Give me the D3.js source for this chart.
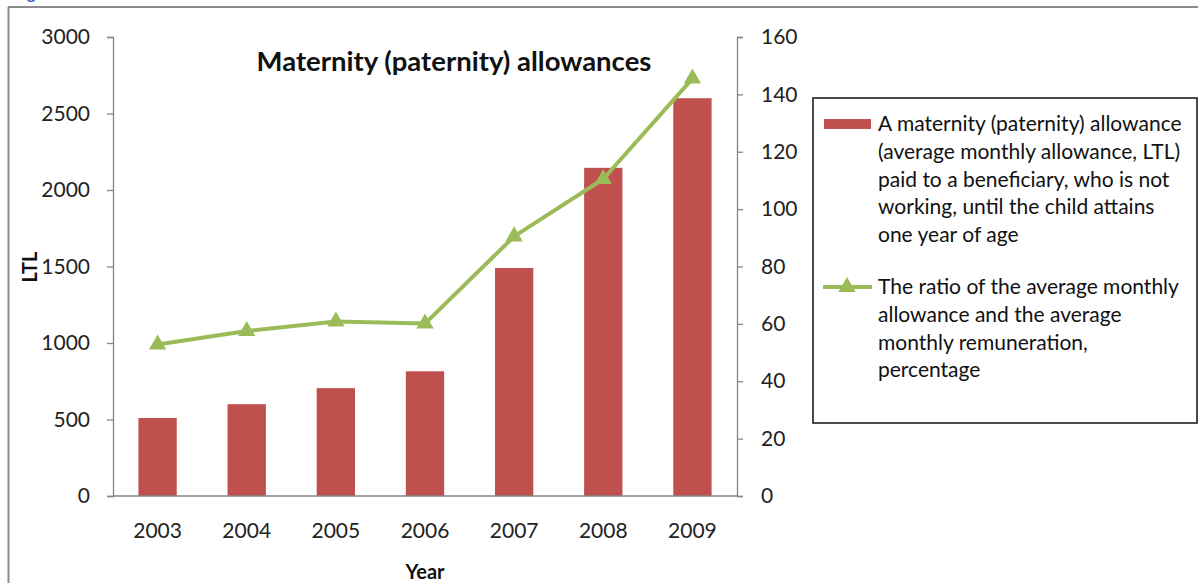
<!DOCTYPE html>
<html>
<head>
<meta charset="utf-8">
<script src="https://cdn.jsdelivr.net/npm/d3@7"></script>
<style>
  html, body { margin: 0; padding: 0; background: #fff; }
  svg { display: block; font-family: Lato, "Open Sans", sans-serif; }
</style>
</head>
<body>
<svg id="chart" width="1198" height="583"></svg>
<script>
// Maternity (paternity) allowance data, 2003–2009
const years = ["2003", "2004", "2005", "2006", "2007", "2008", "2009"];
const allowanceLTL = [510, 600, 705, 815, 1490, 2145, 2600];
const ratioPercent = [52.8, 57.5, 60.8, 60.1, 90.5, 110.5, 145.5];
const leftTicks = [0, 500, 1000, 1500, 2000, 2500, 3000];
const rightTicks = [0, 20, 40, 60, 80, 100, 120, 140, 160];
const legendBarText = [
  "A maternity (paternity) allowance",
  "(average monthly allowance, LTL)",
  "paid to a beneficiary, who is not",
  "working, until the child attains",
  "one year of age"
];
const legendLineText = [
  "The ratio of the average monthly",
  "allowance and the average",
  "monthly remuneration,",
  "percentage"
];

const barColor = "#C0504D";
const lineColor = "#9BBB59";
const axisColor = "#868686";

const svg = d3.select("#chart");

// outer frame (top and left edges visible)
svg.append("line").attr("x1", 8).attr("x2", 1198).attr("y1", 7).attr("y2", 7)
  .attr("stroke", "#8c8c8c").attr("stroke-width", 2);
svg.append("line").attr("x1", 8.5).attr("x2", 8.5).attr("y1", 7).attr("y2", 583)
  .attr("stroke", "#8c8c8c").attr("stroke-width", 2);

// caption above the frame, running off the top edge
svg.append("text").attr("x", 14).attr("y", -1)
  .attr("fill", "#2e5fa8").attr("font-weight", "bold").attr("font-size", 16)
  .text("Fig");

const plot = { left: 113, right: 737, top: 37, bottom: 496 };

const x = d3.scaleBand().domain(years).range([plot.left, plot.right]).paddingInner(0.57).paddingOuter(0.285);
const yL = d3.scaleLinear().domain([0, 3000]).range([plot.bottom, plot.top]);
const yR = d3.scaleLinear().domain([0, 160]).range([plot.bottom, plot.top]);

// bars
svg.append("g").selectAll("rect").data(allowanceLTL).join("rect")
  .attr("x", (d, i) => x(years[i]))
  .attr("width", x.bandwidth())
  .attr("y", d => yL(d))
  .attr("height", d => yL(0) - yL(d))
  .attr("fill", barColor);

// left axis
const gL = svg.append("g").attr("transform", `translate(${plot.left},0)`)
  .call(d3.axisLeft(yL).tickValues(leftTicks).tickFormat(d3.format("d")).tickSize(6).tickPadding(17));
// right axis
const gR = svg.append("g").attr("transform", `translate(${plot.right},0)`)
  .call(d3.axisRight(yR).tickValues(rightTicks).tickFormat(d3.format("d")).tickSize(6).tickPadding(18));
// bottom axis
const gB = svg.append("g").attr("transform", `translate(0,${plot.bottom})`)
  .call(d3.axisBottom(x).tickSize(0).tickPadding(27));

[gL, gR, gB].forEach(g => {
  g.select(".domain").attr("stroke", axisColor).attr("stroke-width", 1.3);
  g.selectAll(".tick line").attr("stroke", axisColor).attr("stroke-width", 1.3);
  g.selectAll(".tick text").attr("fill", "#222").attr("font-size", 21)
    .attr("font-family", "Lato, sans-serif");
});
gB.select(".domain").attr("d", `M${plot.left},0H${plot.right}`);

// ratio line with triangle markers
const cx = i => x(years[i]) + x.bandwidth() / 2;
const line = d3.line().x((d, i) => cx(i)).y(d => yR(d));
svg.append("path").datum(ratioPercent)
  .attr("d", line).attr("fill", "none")
  .attr("stroke", lineColor).attr("stroke-width", 4).attr("stroke-linejoin", "round");
const tri = d3.symbol().type(d3.symbolTriangle).size(130);
svg.append("g").selectAll("path").data(ratioPercent).join("path")
  .attr("transform", (d, i) => `translate(${cx(i)},${yR(d)})`)
  .attr("d", tri).attr("fill", lineColor);

// titles
svg.append("text").attr("x", 454).attr("y", 71).attr("text-anchor", "middle")
  .attr("font-weight", "bold").attr("font-size", 27.5).attr("fill", "#111")
  .text("Maternity (paternity) allowances");
svg.append("text").attr("transform", "translate(37,267) rotate(-90)")
  .attr("text-anchor", "middle").attr("font-weight", "bold").attr("font-size", 20).attr("fill", "#111")
  .text("LTL");
svg.append("text").attr("x", 425).attr("y", 579).attr("text-anchor", "middle")
  .attr("font-weight", "bold").attr("font-size", 20).attr("fill", "#111")
  .text("Year");

// legend
const lg = svg.append("g");
lg.append("rect").attr("x", 813).attr("y", 98).attr("width", 384).attr("height", 325)
  .attr("fill", "#fff").attr("stroke", "#111").attr("stroke-width", 1.5);
lg.append("rect").attr("x", 824).attr("y", 119).attr("width", 47).attr("height", 10).attr("fill", barColor);
lg.append("line").attr("x1", 823).attr("x2", 872).attr("y1", 287).attr("y2", 287)
  .attr("stroke", lineColor).attr("stroke-width", 4);
lg.append("path").attr("transform", "translate(847,287)").attr("d", tri).attr("fill", lineColor);

const lineGap = 27.8;
const legendFont = 21;
lg.append("text").attr("x", 878).attr("y", 131).attr("font-size", legendFont).attr("fill", "#111")
  .selectAll("tspan").data(legendBarText).join("tspan")
  .attr("x", 878).attr("dy", (d, i) => i === 0 ? 0 : lineGap).text(d => d);
lg.append("text").attr("x", 878).attr("y", 294).attr("font-size", legendFont).attr("fill", "#111")
  .selectAll("tspan").data(legendLineText).join("tspan")
  .attr("x", 878).attr("dy", (d, i) => i === 0 ? 0 : lineGap).text(d => d);
</script>
</body>
</html>
